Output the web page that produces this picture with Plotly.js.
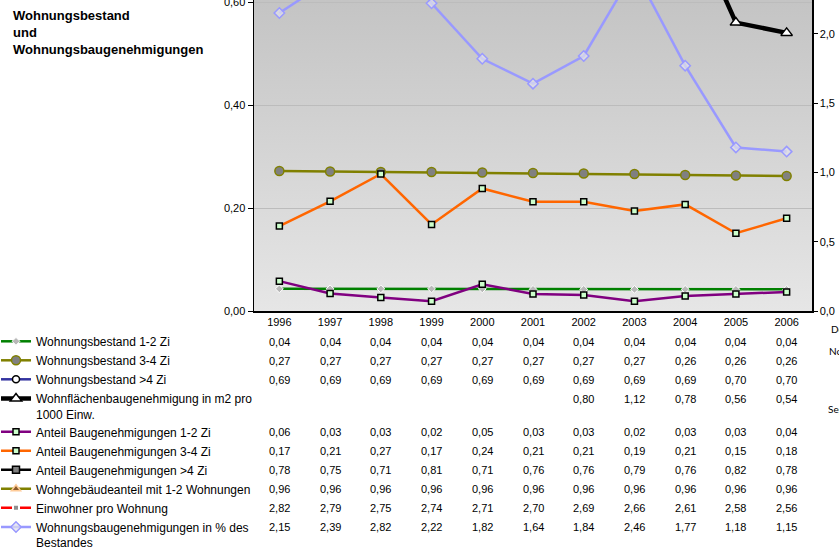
<!DOCTYPE html>
<html>
<head>
<meta charset="utf-8">
<script src="https://cdn.plot.ly/plotly-3.0.1.min.js"></script>
<style>html,body{margin:0;padding:0;background:#fff;}#chart{width:839px;height:549px;}</style>
</head>
<body>
<div id="chart"></div>
<script>
// ---- data ----
const years = [1996,1997,1998,1999,2000,2001,2002,2003,2004,2005,2006];
const yearLabels = ['1996','1997','1998','1999','2000','2001','2002','2003','2004','2005','2006'];
const bestand12   = [0.043,0.043,0.043,0.043,0.043,0.042,0.042,0.042,0.042,0.042,0.042];
const bestand34   = [0.272,0.271,0.270,0.270,0.269,0.268,0.267,0.266,0.264,0.263,0.262];
const bestand4    = [0.69,0.69,0.69,0.69,0.69,0.69,0.69,0.69,0.69,0.70,0.70];
const wohnflaeche = [null,null,null,null,null,null,0.80,1.12,0.78,0.56,0.54];
const anteil12    = [0.058,0.034,0.026,0.019,0.052,0.033,0.031,0.019,0.029,0.033,0.037];
const anteil34    = [0.165,0.213,0.266,0.168,0.238,0.212,0.212,0.194,0.207,0.151,0.180];
const anteil4     = [0.78,0.75,0.71,0.81,0.71,0.76,0.76,0.79,0.76,0.82,0.78];
const gebaeude12  = [0.96,0.96,0.96,0.96,0.96,0.96,0.96,0.96,0.96,0.96,0.96];
const einwohner   = [2.82,2.79,2.75,2.74,2.71,2.70,2.69,2.66,2.61,2.58,2.56];
const wbgProzent  = [2.15,2.39,2.82,2.22,1.82,1.64,1.84,2.46,1.77,1.18,1.15];

const names = [
  'Wohnungsbestand 1-2 Zi',
  'Wohnungsbestand 3-4 Zi',
  'Wohnungsbestand >4 Zi',
  'Wohnflächenbaugenehmigung in m2 pro<br>1000 Einw.',
  'Anteil Baugenehmigungen 1-2 Zi',
  'Anteil Baugenehmigungen 3-4 Zi',
  'Anteil Baugenehmigungen >4 Zi',
  'Wohngebäudeanteil mit 1-2 Wohnungen',
  'Einwohner pro Wohnung',
  'Wohnungsbaugenehmigungen in % des<br>Bestandes'
];
const series = [bestand12,bestand34,bestand4,wohnflaeche,anteil12,anteil34,anteil4,gebaeude12,einwohner,wbgProzent];

// ---- layout geometry ----
const W = 839, H = 549;
const L = 254, R = 812, T = 0, B = 311;
const pyToPaper = py => (B - py) / (B - T);
const pxToPaper = px => (px - L) / (R - L);

const styles = [
  {yaxis:'y',  line:{color:'#008000',width:2.5}, marker:{symbol:'diamond',size:6,color:'#b8b8b8',line:{color:'#ffffff',width:1}}, legend:'legend'},
  {yaxis:'y',  line:{color:'#808000',width:2.5}, marker:{symbol:'circle',size:9,color:'#808080',line:{color:'#808000',width:1.5}}, legend:'legend'},
  {yaxis:'y',  line:{color:'#3333a0',width:2.5}, marker:{symbol:'circle',size:7,color:'#ffffff',line:{color:'#000000',width:1.5}}, legend:'legend'},
  {yaxis:'y',  line:{color:'#000000',width:4.5}, marker:{symbol:'triangle-up',size:10,color:'#ffffff',line:{color:'#000000',width:1.5}}, legend:'legend2'},
  {yaxis:'y',  line:{color:'#800080',width:2.5}, marker:{symbol:'square',size:6,color:'#ccffcc',line:{color:'#000000',width:1.5}}, legend:'legend3'},
  {yaxis:'y',  line:{color:'#ff6600',width:2.5}, marker:{symbol:'square',size:6,color:'#ccffcc',line:{color:'#000000',width:1.5}}, legend:'legend3'},
  {yaxis:'y',  line:{color:'#000000',width:2.5}, marker:{symbol:'square',size:7,color:'#808080',line:{color:'#000000',width:1.5}}, legend:'legend3'},
  {yaxis:'y',  line:{color:'#808000',width:2.5}, marker:{symbol:'triangle-up',size:8,color:'#8a5a2a',line:{color:'#ffcc99',width:1.5}}, legend:'legend3'},
  {yaxis:'y2', line:{color:'#ff0000',width:2.5}, marker:{symbol:'square',size:6,color:'#909090',line:{color:'#ffffff',width:2}}, legend:'legend3'},
  {yaxis:'y2', line:{color:'#9999ff',width:2.5}, marker:{symbol:'diamond',size:8,color:'rgba(225,225,235,0.7)',line:{color:'#9999ff',width:1.5}}, legend:'legend4'}
];

const data = series.map((vals,i) => ({
  type:'scatter', mode:'lines+markers', x: years, y: vals, name: names[i],
  yaxis: styles[i].yaxis, line: styles[i].line, marker: styles[i].marker,
  legend: styles[i].legend, connectgaps:false, cliponaxis:true, hoverinfo:'skip'
}));

// table rows (pixel centres)
const rowY = [341.5,360.5,379.5,398.5,432,451,470,489,508,527];
const annotations = [];
series.forEach((vals,i) => {
  vals.forEach((v,j) => {
    if (v === null) return;
    annotations.push({
      xref:'x', yref:'paper', x: years[j], y: pyToPaper(rowY[i]),
      text: v.toFixed(2).replace('.', ','), showarrow:false,
      xanchor:'center', yanchor:'middle',
      font:{family:'Liberation Sans, Arial, sans-serif', size:11, color:'#000'}
    });
  });
});
annotations.push({
  xref:'paper', yref:'paper', x: pxToPaper(11), y: pyToPaper(6),
  xanchor:'left', yanchor:'top', align:'left', showarrow:false,
  text:'<b>Wohnungsbestand<br>und<br>Wohnungsbaugenehmigungen</b>',
  font:{family:'Liberation Sans, Arial, sans-serif', size:13, color:'#000'}
});
[['De',829,329],['No',827,351],['Sep',826,409]].forEach(t => {
  annotations.push({
    xref:'paper', yref:'paper', x: pxToPaper(t[1]), y: pyToPaper(t[2]),
    xanchor:'left', yanchor:'middle', showarrow:false, text:t[0],
    font:{family:'Lato, Open Sans, sans-serif', size:10, color:'#000'}
  });
});

const grad = '<svg xmlns="http://www.w3.org/2000/svg" width="10" height="100" preserveAspectRatio="none">' +
  '<defs><linearGradient id="g" x1="0" y1="0" x2="0" y2="1">' +
  '<stop offset="0" stop-color="#c4c4c4"/><stop offset="1" stop-color="#e6e6e6"/>' +
  '</linearGradient></defs><rect width="10" height="100" fill="url(#g)"/></svg>';

const legFont = {family:'Liberation Sans, Arial, sans-serif', size:12, color:'#000'};
const legBase = {xref:'paper', yref:'paper', xanchor:'left', yanchor:'top',
  bgcolor:'rgba(0,0,0,0)', borderwidth:0, font:legFont, itemwidth:30, traceorder:'normal', valign:'top'};
const legendAt = top => Object.assign({}, legBase, {x: pxToPaper(-4), y: pyToPaper(top)});

const layout = {
  width: W, height: H,
  margin:{l:L, r:W-R, t:T, b:H-B, pad:0, autoexpand:false},
  paper_bgcolor:'#ffffff', plot_bgcolor:'rgba(0,0,0,0)',
  separators:',.',
  showlegend:true,
  font:{family:'Liberation Sans, Arial, sans-serif', size:11, color:'#000'},
  images:[{source:'data:image/svg+xml;base64,' + btoa(grad), xref:'paper', yref:'paper',
    x:0, y:1, sizex:1, sizey:1, sizing:'stretch', layer:'below', xanchor:'left', yanchor:'top'}],
  xaxis:{type:'linear', range:[1995.5, 2006.5], autorange:false, tickvals: years, ticktext: yearLabels,
    showgrid:false, zeroline:false, showline:true, linecolor:'#000', linewidth:1.5,
    ticks:'', tickfont:{size:11}, fixedrange:true},
  yaxis:{range:[0, 311/515], autorange:false, tickvals:[0,0.2,0.4,0.6], tickformat:'.2f', showgrid:true, gridcolor:'#bcbcbc', gridwidth:1,
    zeroline:false, showline:true, linecolor:'#000', linewidth:1.5, ticks:'outside', ticklen:5, tickcolor:'#000',
    tickfont:{size:11}, ticklabeloverflow:'allow', fixedrange:true},
  yaxis2:{overlaying:'y', side:'right', range:[0, 311/138.6], autorange:false, tickvals:[0,0.5,1,1.5,2], tickformat:'.1f', showgrid:false,
    zeroline:false, showline:true, linecolor:'#000', linewidth:1.5, ticks:'outside', ticklen:4, tickcolor:'#000',
    tickfont:{size:11}, ticklabeloverflow:'allow', fixedrange:true},
  legend: legendAt(327),
  legend2: legendAt(384.2),
  legend3: legendAt(417.5),
  legend4: legendAt(512.7),
  annotations: annotations
};

Plotly.newPlot('chart', data, layout, {staticPlot:true, displayModeBar:false});
</script>
</body>
</html>
